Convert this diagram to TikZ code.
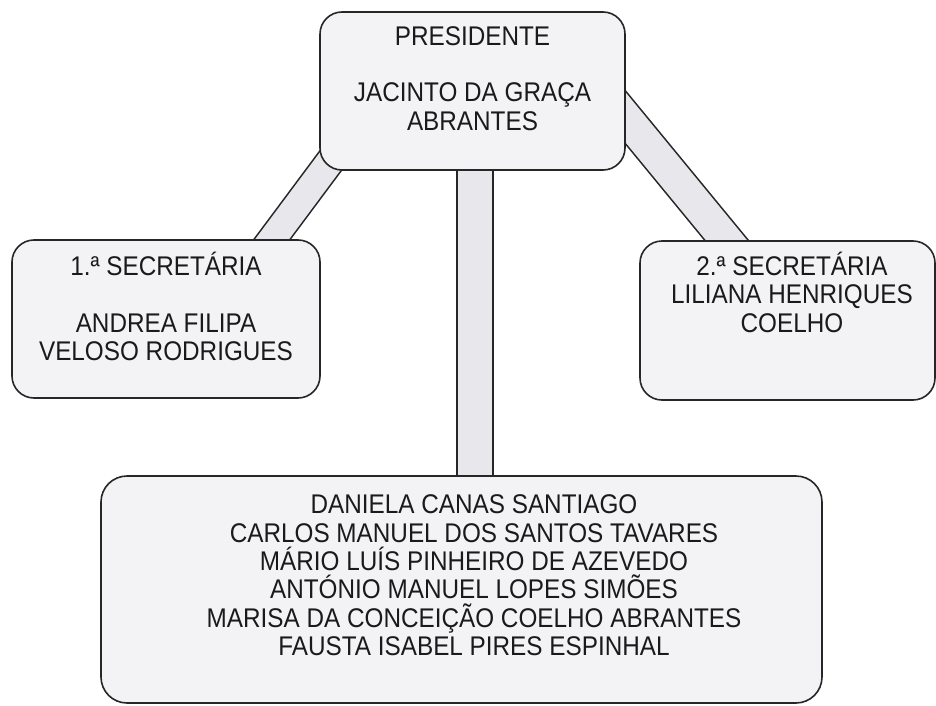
\documentclass[tikz,border=0pt]{standalone}
\usepackage{fontspec}
\newfontfamily\diagfont[FakeStretch=0.9]{Liberation Sans}
\usetikzlibrary{calc}
\pgfdeclarelayer{background}
\pgfsetlayers{background,main}
\definecolor{border}{HTML}{262626}
\definecolor{boxfill}{HTML}{F3F3F5}
\definecolor{bandfill}{HTML}{E8E8EC}
\definecolor{ink}{HTML}{1A1A1A}
\begin{document}
\begin{tikzpicture}[x=1pt,y=-1pt,
  box/.style={draw=border, fill=boxfill, line width=1.6pt, rounded corners=22pt, inner sep=0pt},
  band/.style={draw=border, line width=1.6pt, double=bandfill, double distance=#1},
  txt/.style={font=\diagfont\fontsize{27}{28}\selectfont, text=ink, anchor=base, inner sep=0pt}]
\useasboundingbox (0,0) rectangle (936,706);
% boxes
\node[box, minimum width=305pt, minimum height=158pt] (pres) at (472.5,91) {};
\node[box, minimum width=308pt, minimum height=158pt] (sec1) at (166,319) {};
\node[box, minimum width=295pt, minimum height=159pt] (sec2) at (787.5,320.5) {};
\node[box, minimum width=721pt, minimum height=227pt, rounded corners=26pt] (members) at (461.5,589.5) {};
% connecting bands
\begin{pgfonlayer}{background}
\draw[band=27.2pt] ($(pres.south west)+(24,-27)$) -- ($(sec1.north)+(95,15)$);
\draw[band=31.8pt] ($(pres.east)+(-31,-11)$) -- ($(sec2.north)+(-49.5,14)$);
\draw[band=34.8pt] ($(pres.south)+(2.5,-20)$) -- ($(members.north)+(13.5,14)$);
\end{pgfonlayer}
% texts
\node[txt] (p1) at (472.5,46) {PRESIDENTE};
\node[txt] (p2) at (472.5,102) {JACINTO DA GRAÇA};
\node[txt] (p3) at (472.5,130) {ABRANTES};
\node[txt] (s11) at (166,275) {1.ª SECRETÁRIA};
\node[txt] (s12) at (166,332) {ANDREA FILIPA};
\node[txt] (s13) at (166,360) {VELOSO RODRIGUES};
\node[txt] (s21) at (792,275) {2.ª SECRETÁRIA};
\node[txt] (s22) at (792,303) {LILIANA HENRIQUES};
\node[txt] (s23) at (792,332) {COELHO};
\node[txt] (m1) at (474,513) {DANIELA CANAS SANTIAGO};
\node[txt] (m2) at (474,542) {CARLOS MANUEL DOS SANTOS TAVARES};
\node[txt] (m3) at (474,570) {MÁRIO LUÍS PINHEIRO DE AZEVEDO};
\node[txt] (m4) at (474,598) {ANTÓNIO MANUEL LOPES SIMÕES};
\node[txt] (m5) at (474,627) {MARISA DA CONCEIÇÃO COELHO ABRANTES};
\node[txt] (m6) at (474,655) {FAUSTA ISABEL PIRES ESPINHAL};
\end{tikzpicture}
\end{document}
